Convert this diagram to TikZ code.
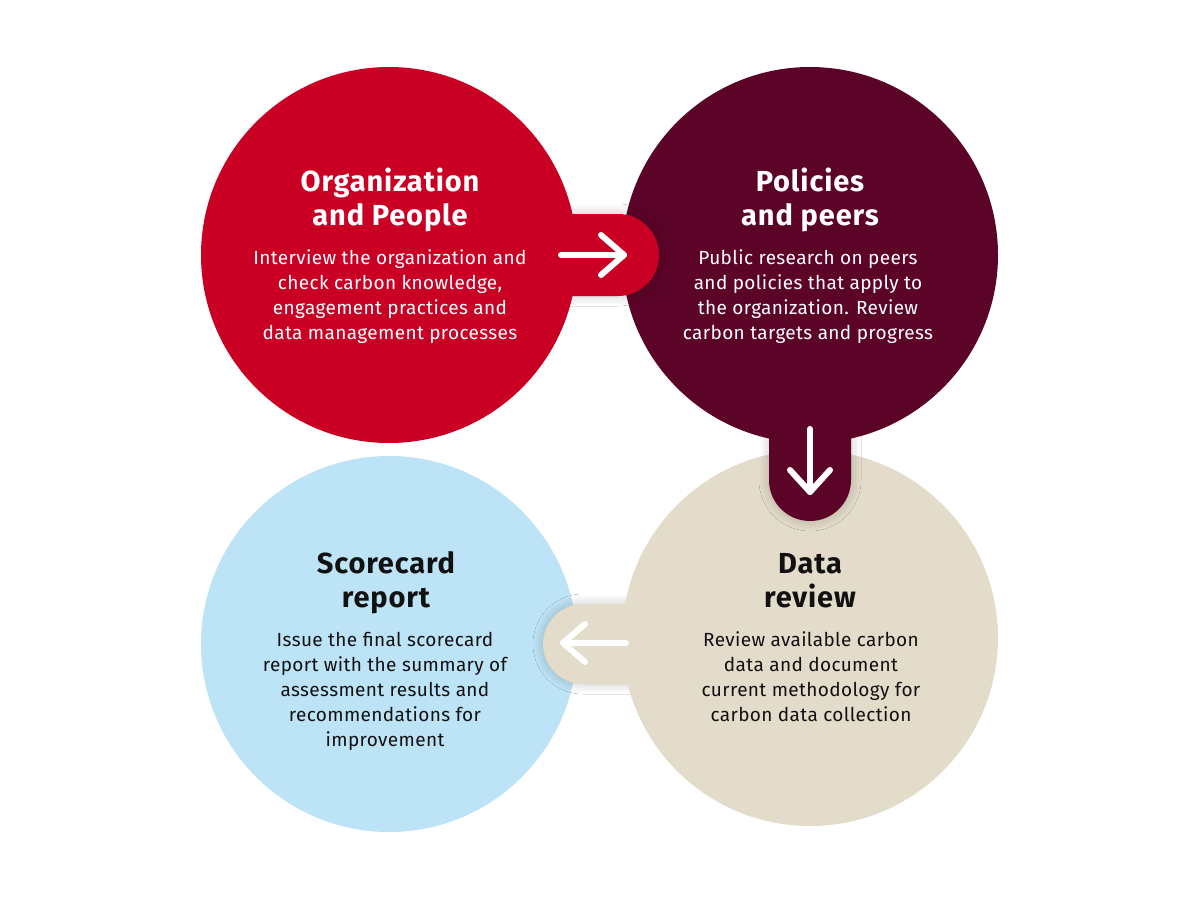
\documentclass[tikz,border=0pt]{standalone}
\usepackage{fontspec}
\setmainfont{Fira Sans}
\usetikzlibrary{shadows.blur}
\definecolor{cred}{HTML}{C90024}
\definecolor{cmaroon}{HTML}{5C0428}
\definecolor{cbeige}{HTML}{E4DCCA}
\definecolor{cblue}{HTML}{BDE4F6}
\definecolor{ctext}{HTML}{111111}
\begin{document}
\begin{tikzpicture}[x=1pt,y=-1pt,
  bubble/.style={circle,minimum size=376pt,inner sep=0pt,draw=none},
  tabshadow/.style={blur shadow={shadow xshift=0pt,shadow yshift=0pt,shadow blur radius=10pt,shadow opacity=22,shadow blur steps=24}},
  arrowline/.style={draw=white,line width=6pt,line cap=round,line join=round},
  ttl/.style={anchor=base,inner sep=0pt,font=\fontsize{29}{34}\selectfont\bfseries\addfontfeatures{LetterSpace=3}},
  bdy/.style={anchor=base,inner sep=0pt,font=\fontsize{19}{25}\selectfont\addfontfeatures{LetterSpace=2}},
  wt/.style={text=white},
  bk/.style={text=ctext}]
\useasboundingbox (0,0) rectangle (1200,900);
\fill[white] (0,0) rectangle (1200,900);

% bottom-left circle
\node[bubble,fill=cblue] (score) at (389,644) {};
% beige tab (data -> score)
\fill[cbeige,tabshadow,rounded corners=40pt] (543,604) rectangle (720,684);
\node[bubble,fill=cbeige] (data) at (810,638) {};
% maroon tab (policies -> data)
\fill[cmaroon,tabshadow,rounded corners=41pt] (769,360) rectangle (851,521);
\node[bubble,fill=cmaroon] (pol) at (810,255) {};
% red tab (org -> policies)
\fill[cred,tabshadow,rounded corners=41pt] (480,214) rectangle (659,296);
\node[bubble,fill=cred] (org) at (389,255) {};

% arrows
\coordinate (a1s) at (561,255); \coordinate (a1e) at (624,255);
\coordinate (a2s) at (810,429); \coordinate (a2e) at (810,492);
\coordinate (a3s) at (626,643); \coordinate (a3e) at (563,643);
\draw[arrowline] (a1s) -- (a1e);
\draw[arrowline] ($(a1e)+(-23,-20)$) -- (a1e) -- ($(a1e)+(-23,20)$);
\draw[arrowline] (a2s) -- (a2e);
\draw[arrowline] ($(a2e)+(-20,-22)$) -- (a2e) -- ($(a2e)+(20,-22)$);
\draw[arrowline] (a3s) -- (a3e);
\draw[arrowline] ($(a3e)+(22,-19)$) -- (a3e) -- ($(a3e)+(22,19)$);

% texts: organization
\node[ttl,wt] (o1) at (390,191) {Organization};
\node[ttl,wt] (o2) at (390,225) {and People};
\node[bdy,wt] (o3) at (390,264) {Interview the organization and};
\node[bdy,wt] (o4) at (390,289) {check carbon knowledge,};
\node[bdy,wt] (o5) at (390,314) {engagement practices and};
\node[bdy,wt] (o6) at (390,339) {data management processes};
% policies
\node[ttl,wt] (p1) at (810,191) {Policies};
\node[ttl,wt] (p2) at (810,225) {and peers};
\node[bdy,wt] (p3) at (808,264) {Public research on peers};
\node[bdy,wt] (p4) at (808,289) {and policies that apply to};
\node[bdy,wt] (p5) at (808,314) {the organization. Review};
\node[bdy,wt] (p6) at (808,339) {carbon targets and progress};
% data review
\node[ttl,bk] (d1) at (810,573) {Data};
\node[ttl,bk] (d2) at (810,607) {review};
\node[bdy,bk] (d3) at (811,646) {Review available carbon};
\node[bdy,bk] (d4) at (811,671) {data and document};
\node[bdy,bk] (d5) at (811,696) {current methodology for};
\node[bdy,bk] (d6) at (811,721) {carbon data collection};
% scorecard
\node[ttl,bk] (s1) at (386,573) {Scorecard};
\node[ttl,bk] (s2) at (386,607) {report};
\node[bdy,bk] (s3) at (385,646) {Issue the final scorecard};
\node[bdy,bk] (s4) at (385,671) {report with the summary of};
\node[bdy,bk] (s5) at (385,696) {assessment results and};
\node[bdy,bk] (s6) at (385,721) {recommendations for};
\node[bdy,bk] (s7) at (385,746) {improvement};
\end{tikzpicture}
\end{document}
